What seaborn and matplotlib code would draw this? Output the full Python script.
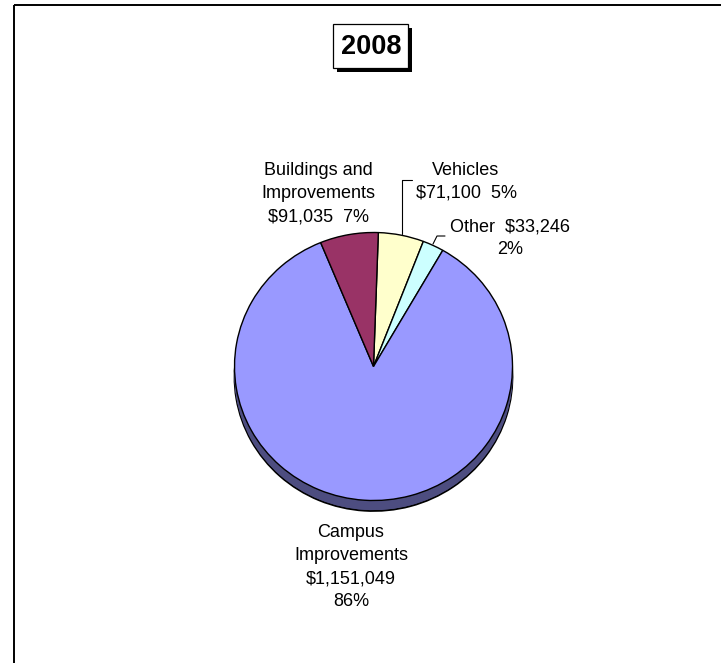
import matplotlib
matplotlib.use('Agg')
import matplotlib.pyplot as plt
import seaborn as sns
import numpy as np
from matplotlib.colors import to_rgb
from matplotlib.patches import Rectangle

# data (clockwise from the top)
categories = ['Vehicles', 'Other', 'Campus Improvements', 'Buildings and Improvements']
amounts = [71100, 33246, 1151049, 91035]
percent_labels = ['5%', '2%', '86%', '7%']
slice_colors = ['#FFFFCC', '#CCFFFF', '#9999FF', '#993366']
title = '2008'

sns.set_theme(style='white')
plt.rcParams['font.family'] = ['Liberation Sans', 'DejaVu Sans']

W, H = 721, 663
fig = plt.figure(figsize=(W / 100, H / 100), dpi=100)
fig.patch.set_facecolor('white')

# pie geometry in pixels (slightly squashed, with a 3d rim)
cx, cy, rx, ry, depth = 373.5, 366.5, 139, 134, 10.5

pie_ax = fig.add_axes([0, 0, 1, 1])
pie_ax.set_facecolor('white')
shade = [tuple(c * 0.5 for c in to_rgb(col)) for col in slice_colors]

offsets = np.linspace(depth, 0.5, 12)
for i, off in enumerate(offsets):
    wp = {'linewidth': 1.3 if i == 0 else 0, 'edgecolor': 'black'}
    pie_ax.pie(amounts, colors=shade, startangle=88, counterclock=False,
               center=(0, -off / ry), radius=1, wedgeprops=wp)

pie_ax.pie(amounts, colors=slice_colors, startangle=88, counterclock=False,
           center=(0, 0), radius=1,
           wedgeprops={'linewidth': 1.0, 'edgecolor': 'black'})
pie_ax.set_aspect('auto')
pie_ax.set_xlim(-cx / rx, (W - cx) / rx)
pie_ax.set_ylim((cy - H) / ry, cy / ry)
pie_ax.axis('off')

# overlay in pixel coordinates for the frame, title and labels
ax = fig.add_axes([0, 0, 1, 1])
ax.set_xlim(0, W)
ax.set_ylim(H, 0)
ax.axis('off')
ax.patch.set_alpha(0)

ax.add_patch(Rectangle((14, 5), W, H, fill=False, ec='black', lw=1.4))

# title box with drop shadow
ax.add_patch(Rectangle((336.5, 27.5), 75, 44, fc='black', ec='none'))
ax.add_patch(Rectangle((333, 24), 75, 44, fc='white', ec='black', lw=0.9))
ax.text(371, 47, title, ha='center', va='center', fontsize=19.5,
        fontweight='bold', color='black')

money = [f'${a:,}' for a in amounts]
label_lines = [
    ['Vehicles', f'{money[0]}  {percent_labels[0]}'],
    [f'Other  {money[1]}', percent_labels[1]],
    ['Campus', 'Improvements', money[2], percent_labels[2]],
    ['Buildings and', 'Improvements', f'{money[3]}  {percent_labels[3]}'],
]
label_anchor = [(466, 175), (510, 231), (351, 537), (318, 175)]
step = 23
for lines, (lx, ly) in zip(label_lines, label_anchor):
    for k, line in enumerate(lines):
        ax.text(lx, ly + k * step, line, ha='center', va='baseline',
                fontsize=13, color='black')

# leader lines
ax.plot([411.5, 402, 402], [180, 180, 234], color='black', lw=0.8)
ax.plot([445, 437, 433], [236, 236, 244], color='black', lw=0.8)

fig.savefig('out.png', dpi=100, facecolor='white')
